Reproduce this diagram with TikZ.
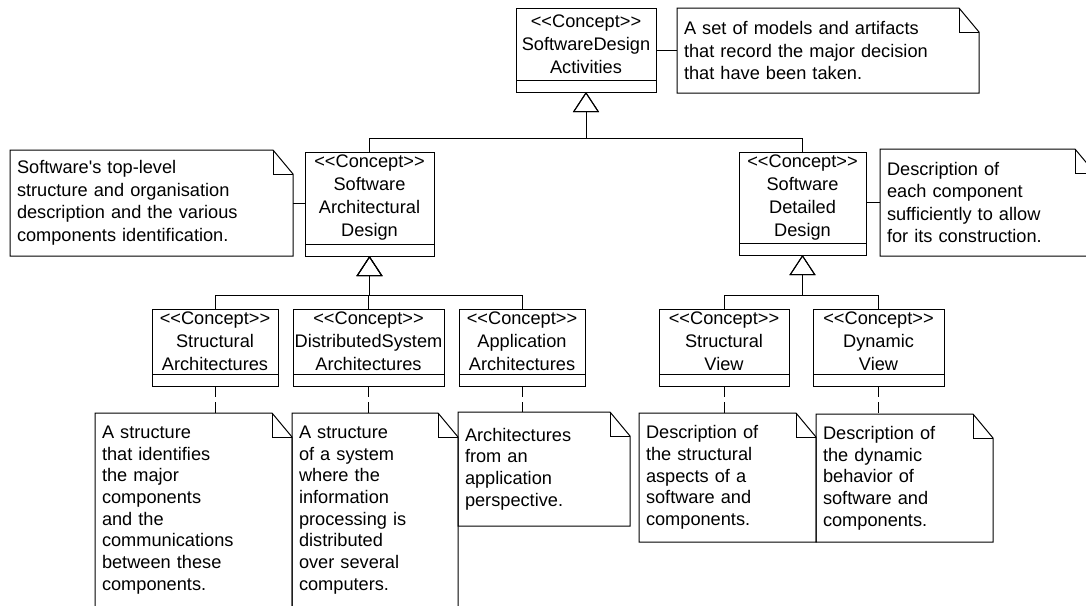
\documentclass[tikz,border=0pt]{standalone}
\usepackage{fontspec}
\newfontfamily\umlfont{Liberation Sans}
\usepackage{tikz}
\usetikzlibrary{arrows.meta,positioning}

\begin{document}
\begin{tikzpicture}[x=1pt,y=-1pt]
        \tikzset{concept/.style = {draw,line width=1pt,outer sep=0pt,align=center,inner xsep=1pt,inner ysep=0pt,font=\umlfont\fontsize{18.2}{23}\selectfont}};
        \tikzset{attr/.style = {draw,line width=1pt,outer sep=0pt,minimum height=12pt,inner sep=0pt}};
        \tikzset{note/.style = {anchor=north west,outer sep=0pt,align=left,inner xsep=7pt,inner ysep=0pt,font=\umlfont\fontsize{18.2}{22.5}\selectfont}};
        \tikzset{smallnote/.style = {note,font=\umlfont\fontsize{18.2}{21.7}\selectfont}};
        \tikzset{gen/.style = {line width=1pt,-{Triangle[open,length=20pt,width=26pt,line width=1pt]}}};
        \tikzset{link/.style = {line width=1pt}};
        \tikzset{anchorlink/.style = {line width=1pt,dash pattern=on 11pt off 5pt}};
        \clip (0,0) rectangle (1086,605);
        % concepts
        \node[concept,minimum width=140pt,minimum height=72pt] (sda) at (586,44) {<<Concept>>\\SoftwareDesign\\Activities};
        \node[attr,minimum width=140pt,below=0pt of sda] (sda-a) {};
        \node[concept,minimum width=129pt,minimum height=92pt] (sad) at (369.5,198) {<<Concept>>\\Software\\Architectural\\Design};
        \node[attr,minimum width=129pt,below=0pt of sad] (sad-a) {};
        \node[concept,minimum width=127pt,minimum height=91pt] (sdd) at (802.5,197.5) {<<Concept>>\\Software\\Detailed\\Design};
        \node[attr,minimum width=127pt,below=0pt of sdd] (sdd-a) {};
        \node[concept,minimum width=126pt,minimum height=65pt] (sa) at (215,341.5) {<<Concept>>\\Structural\\Architectures};
        \node[attr,minimum width=126pt,below=0pt of sa] (sa-a) {};
        \node[concept,minimum width=151pt,minimum height=65pt] (dsa) at (368.5,341.5) {<<Concept>>\\DistributedSystem\\Architectures};
        \node[attr,minimum width=151pt,below=0pt of dsa] (dsa-a) {};
        \node[concept,minimum width=126pt,minimum height=65pt] (aa) at (522,341.5) {<<Concept>>\\Application\\Architectures};
        \node[attr,minimum width=126pt,below=0pt of aa] (aa-a) {};
        \node[concept,minimum width=130pt,minimum height=65pt] (sv) at (724,341.5) {<<Concept>>\\Structural\\View};
        \node[attr,minimum width=130pt,below=0pt of sv] (sv-a) {};
        \node[concept,minimum width=131pt,minimum height=65pt] (dv) at (878.5,341.5) {<<Concept>>\\Dynamic\\View};
        \node[attr,minimum width=131pt,below=0pt of dv] (dv-a) {};
        % notes
        \node[note,text width=288pt,minimum height=85pt] (n0) at (677,8) {A set of models and artifacts\\that record the major decision\\that have been taken.};
        \node[note,text width=269pt,minimum height=106pt] (n1) at (10,150) {Software's top-level\\structure and organisation\\description and the various\\components identification.};
        \node[note,text width=201pt,minimum height=107pt] (n2) at (880,149) {Description of\\each component\\sufficiently to allow\\for its construction.};
        \node[smallnote,text width=183pt,minimum height=194pt] (n3) at (95,413) {A structure\\that identifies\\the major\\components\\and the\\communications\\between these\\components.};
        \node[smallnote,text width=152pt,minimum height=194pt] (n4) at (292,413) {A structure\\of a system\\where the\\information\\processing is\\distributed\\over several\\computers.};
        \node[smallnote,text width=158pt,minimum height=114pt] (n5) at (458,412) {Architectures\\from an\\application\\perspective.};
        \node[smallnote,text width=163pt,minimum height=129pt] (n6) at (639,413) {Description of\\the structural\\aspects of a\\software and\\components.};
        \node[smallnote,text width=163pt,minimum height=128pt] (n7) at (816,414) {Description of\\the dynamic\\behavior of\\software and\\components.};
        \foreach \nt in {n0,n1,n2,n3,n4,n5,n6,n7} {
            \draw[link] (\nt.south west) -- (\nt.north west) -- ([xshift=-20pt]\nt.north east) -- ([yshift=-24pt]\nt.north east) -- (\nt.south east) -- cycle;
            \draw[link] ([xshift=-20pt]\nt.north east) |- ([yshift=-24pt]\nt.north east);
        }
        % generalisations
        \coordinate (j0) at (586,138);
        \coordinate (j1) at (369.5,295);
        \coordinate (j2) at (802.5,295);
        \draw[gen] (sad.north) |- (j0) -- (sda-a.south);
        \draw[gen] (sdd.north) |- (j0) -- (sda-a.south);
        \draw[gen] (sa.north) |- (j1) -- (sad-a.south);
        \draw[gen] (dsa.north) |- (j1) -- (sad-a.south);
        \draw[gen] (aa.north) |- (j1) -- (sad-a.south);
        \draw[gen] (sv.north) |- (j2) -- (sdd-a.south);
        \draw[gen] (dv.north) |- (j2) -- (sdd-a.south);
        % note links
        \draw[link] (n0.west) -- (n0.west -| sda.east);
        \draw[link] (n1.east) -- (n1.east -| sad.west);
        \draw[link] (n2.west) -- (n2.west -| sdd.east);
        \draw[anchorlink] (sa-a.south) -- (sa-a.south |- n3.north);
        \draw[anchorlink] (dsa-a.south) -- (dsa-a.south |- n4.north);
        \draw[anchorlink] (aa-a.south) -- (aa-a.south |- n5.north);
        \draw[anchorlink] (sv-a.south) -- (sv-a.south |- n6.north);
        \draw[anchorlink] (dv-a.south) -- (dv-a.south |- n7.north);
\end{tikzpicture}
\end{document}
